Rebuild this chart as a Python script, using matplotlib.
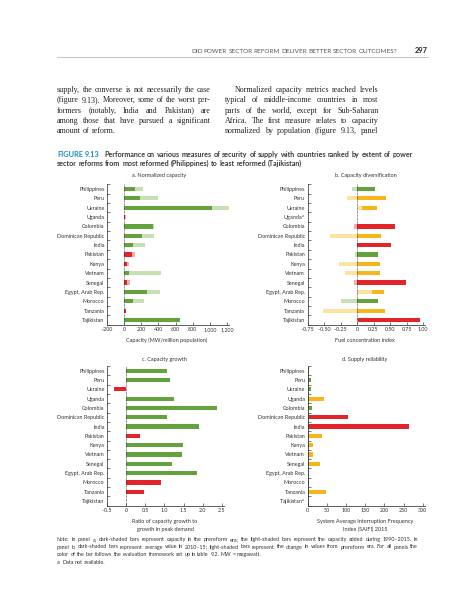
import numpy as np
import matplotlib
matplotlib.use("Agg")
import matplotlib.pyplot as plt

W, H = 457, 600
plt.rcParams['font.family'] = ['Lato', 'DejaVu Sans']
plt.rcParams['mathtext.fontset'] = 'custom'
plt.rcParams['mathtext.rm'] = 'Lato'

# données
countries = ["Philippines", "Peru", "Ukraine", "Uganda", "Colombia", "Dominican Republic",
             "India", "Pakistan", "Kenya", "Vietnam", "Senegal", "Egypt, Arab Rep.",
             "Morocco", "Tanzania", "Tajikistan"]

# a. capacité normalisée (MW / million d'habitants)
cap_prereform = [128, 186, 1025, 12, 342, 214, 109, 89, 31, 62, 31, 264, 109, 16, 652]
cap_total = [217, 392, 1262, 23, 350, 353, 249, 128, 54, 435, 70, 419, 237, 23, 652]
cap_rating = ["g", "g", "g", "r", "g", "g", "g", "r", "r", "g", "r", "g", "g", "r", "g"]

# b. diversification
div_recent = [0.27, 0.44, 0.30, np.nan, 0.57, 0.36, 0.51, 0.31, 0.35, 0.35, 0.74, 0.40, 0.32, 0.42, 0.945]
div_change = [-0.075, -0.16, 0.08, np.nan, -0.05, -0.41, 0.0, -0.03, -0.28, -0.19, -0.045, 0.22, -0.25, -0.51, 0.02]
div_rating = ["g", "y", "y", None, "r", "y", "r", "g", "y", "y", "r", "y", "g", "y", "r"]

# c. croissance de capacité
growth_ratio = [1.07, 1.15, -0.31, 1.24, 2.36, 1.06, 1.91, 0.36, 1.48, 1.45, 1.21, 1.84, 0.92, 0.47, np.nan]
growth_rating = ["g", "g", "r", "g", "g", "g", "g", "r", "g", "g", "g", "g", "r", "r", None]

# d. fiabilité (SAIFI 2015)
saifi = [4, 9.5, 9.5, 42.6, 10.4, 105, 264, 37, 13, 14, 31, 1.5, 3, 48, np.nan]
saifi_rating = ["g", "g", "g", "y", "g", "r", "r", "y", "y", "y", "y", "g", "g", "y", None]

ticks_a = [-200, 0, 200, 400, 600, 800, 1000, 1200]
ticklabels_a = ["–200", "0", "200", "400", "600", "800", "1,000", "1,200"]
ticks_b = [-0.75, -0.5, -0.25, 0, 0.25, 0.5, 0.75, 1.0]
ticklabels_b = ["–0.75", "–0.50", "–0.25", "0", "0.25", "0.50", "0.75", "1.00"]
ticks_c = [-0.5, 0, 0.5, 1.0, 1.5, 2.0, 2.5]
ticklabels_c = ["–0.5", "0", "0.5", "1.0", "1.5", "2.0", "2.5"]
ticks_d = [0, 50, 100, 150, 200, 250, 300]
ticklabels_d = ["0", "50", "100", "150", "200", "250", "300"]

dark = {"g": "#64a23d", "y": "#f6b51b", "r": "#e2242b"}
light = {"g": "#c6e0b3", "y": "#fce3a0", "r": "#f5aaa6"}
txt = "#333333"
SERIF = ["Liberation Serif", "DejaVu Serif"]
SANS = ["Lato", "DejaVu Sans"]

fig = plt.figure(figsize=(W / 100, H / 100), dpi=100)
rend = fig.canvas.get_renderer()


def fx(x):
    return x / W


def fy(y):
    return 1 - y / H


def text_width(s, **kw):
    t = fig.text(0, 0, s, **kw)
    wd = t.get_window_extent(rend).width
    t.remove()
    return wd


def fit_size(lines, widths, base, **kw):
    # taille de police pour que les lignes tiennent dans la colonne
    ratios = [wd / text_width(ln, fontsize=base, **kw) for ln, wd in zip(lines, widths)]
    return base * min(ratios) * 0.99


def line_text(line, x0, x1, y, justify=True, first_style=None, **kw):
    # un texte par mot, espacement réparti pour justifier la ligne
    words = line.split(" ")
    styles = [dict(kw) for _ in words]
    if first_style:
        styles[0].update(first_style)
    widths = [text_width(w, **s) for w, s in zip(words, styles)]
    space = text_width("x x", **kw) - text_width("xx", **kw)
    if justify and len(words) > 1:
        gap = (x1 - x0 - sum(widths)) / (len(words) - 1)
    else:
        gap = space
    x = x0
    for w, s, wd in zip(words, styles, widths):
        fig.text(fx(x), fy(y), w, va="baseline", ha="left", **s)
        x += wd + gap


# en-tête de page
head = "DID POWER SECTOR REFORM DELIVER BETTER SECTOR OUTCOMES?"
hs = fit_size([head], [206], 4.0, family=SANS)
line_text(head, 191, 397, 53, fontsize=hs, family=SANS, color="#555555")
fig.text(fx(428), fy(53), "297", ha="right", va="baseline", fontsize=5.4,
         fontweight="bold", color="#222222")
fig.add_artist(plt.Line2D([fx(57), fx(428)], [fy(57), fy(57)], color="#bbbbbb", lw=0.6))

# texte courant
left_col = ["supply, the converse is not necessarily the case",
            "(figure 9.13). Moreover, some of the worst per-",
            "formers (notably, India and Pakistan) are",
            "among those that have pursued a significant",
            "amount of reform."]
right_col = ["Normalized capacity metrics reached levels",
             "typical of middle-income countries in most",
             "parts of the world, except for Sub-Saharan",
             "Africa. The first measure relates to capacity",
             "normalized by population (figure 9.13, panel"]
sz = fit_size([left_col[0], left_col[3], right_col[3], right_col[4]],
              [153.7, 153.7, 153.6, 153.6], 6.0, family=SERIF)
serif = dict(fontsize=sz, family=SERIF, color="#222222")
for i, ln in enumerate(left_col):
    line_text(ln, 57, 210.7, 92 + i * 10.3, justify=(i < 4), **serif)
for i, ln in enumerate(right_col):
    line_text(ln, 235 if i == 0 else 224.7, 378.3, 92 + i * 10.3, **serif)

# légende de la figure
cap1 = "Performance on various measures of security of supply with countries ranked by extent of power"
cap2 = "sector reforms from most reformed (Philippines) to least reformed (Tajikistan)"
cs = fit_size([cap1], [308.7], 4.7, fontweight="bold", family=SANS)
cap = dict(fontsize=cs, fontweight="bold", color="#3a3a3a", family=SANS)
line_text("FIGURE 9.13", 57, 97, 157, justify=False, fontsize=cs * 1.05, fontweight="bold",
          color="#1a8cc8", family=SANS)
line_text(cap1, 104, 412.7, 157, **cap)
line_text(cap2, 57, 412, 166, justify=False, **cap)


def make_axes(x_left, x_right, y_top, y_bot):
    return fig.add_axes([fx(x_left), fy(y_bot), (x_right - x_left) / W, (y_bot - y_top) / H])


def style(ax, xlim, ticks, ticklabels, ylabels):
    ax.set_xlim(*xlim)
    ax.set_ylim(len(ylabels) - 0.5, -0.5)
    for s in ["top", "right"]:
        ax.spines[s].set_visible(False)
    for s in ["left", "bottom"]:
        ax.spines[s].set_linewidth(0.6)
        ax.spines[s].set_color("#444444")
    ax.set_yticks(range(len(ylabels)))
    ax.set_yticklabels(ylabels, fontsize=3.9, color=txt)
    ax.tick_params(axis="y", which="major", length=0, pad=1.8)
    ax.set_yticks(np.arange(-0.5, len(ylabels)), minor=True)
    ax.tick_params(axis="y", which="minor", direction="in", length=2, width=0.5, color="#444444")
    ax.set_xticks(ticks)
    ax.set_xticklabels(ticklabels, fontsize=3.9, color=txt)
    ax.tick_params(axis="x", direction="in", length=2, width=0.5, pad=1.6, color="#444444")
    ax.axvline(0, color="#222222", ls=(0, (1, 1)), lw=0.5, zorder=5)
    ax.patch.set_alpha(0)


y = np.arange(len(countries))
bh = 0.45

# panneau a
ax = make_axes(107, 228.7, 184.3, 324.7)
pre = np.array(cap_prereform, float)
tot = np.array(cap_total, float)
ax.barh(y, pre, height=bh, color=[dark[c] for c in cap_rating], lw=0)
ax.barh(y, tot - pre, left=pre, height=bh, color=[light[c] for c in cap_rating], lw=0)
style(ax, (-200, 1220), ticks_a, ticklabels_a, countries)

# panneau b
labels_b = list(countries)
labels_b[3] = "Uganda$^{\\mathrm{a}}$"
ax = make_axes(307.5, 424.5, 184.3, 324.7)
rec = np.array(div_recent, float)
chg = np.array(div_change, float)
ok = ~np.isnan(rec)
ax.barh(y[ok], rec[ok], height=bh, color=[dark[c] for c, m in zip(div_rating, ok) if m], lw=0)
ax.barh(y[ok], chg[ok], height=bh, color=[light[c] for c, m in zip(div_rating, ok) if m], lw=0)
style(ax, (-0.75, 1.02), ticks_b, ticklabels_b, labels_b)

# panneau c
ax = make_axes(107, 223.8, 366, 505.7)
gr = np.array(growth_ratio, float)
ok = ~np.isnan(gr)
ax.barh(y[ok], gr[ok], height=bh, color=[dark[c] for c, m in zip(growth_rating, ok) if m], lw=0)
style(ax, (-0.5, 2.55), ticks_c, ticklabels_c, countries)

# panneau d
labels_d = list(countries)
labels_d[14] = "Tajikistan$^{\\mathrm{a}}$"
ax = make_axes(307.7, 424.6, 366, 505.7)
sf = np.array(saifi, float)
ok = ~np.isnan(sf)
ax.barh(y[ok], sf[ok], height=bh, color=[dark[c] for c, m in zip(saifi_rating, ok) if m], lw=0)
style(ax, (0, 305), ticks_d, ticklabels_d, labels_d)

# titres et axes des panneaux
small = dict(fontsize=4.0, color=txt, ha="center", va="center")
fig.text(fx(159), fy(176), "a. Normalized capacity", **small)
fig.text(fx(365.7), fy(176), "b. Capacity diversification", **small)
fig.text(fx(164), fy(359), "c. Capacity growth", **small)
fig.text(fx(365), fy(359), "d. Supply reliability", **small)
fig.text(fx(166.7), fy(340.3), "Capacity (MW/million population)", **small)
fig.text(fx(365), fy(340.3), "Fuel concentration index", **small)
fig.text(fx(165), fy(522), "Ratio of capacity growth to", **small)
fig.text(fx(165), fy(529.7), "growth in peak demand", **small)
fig.text(fx(365), fy(522), "System Average Interruption Frequency", **small)
fig.text(fx(365), fy(529.7), "Index (SAIFI) 2015", **small)

# note
n1 = ("Note: In panel a, dark-shaded bars represent capacity in the prereform era; the light-shaded bars "
      "represent the capacity added during 1990–2015. In")
n2 = ("panel b, dark-shaded bars represent average value in 2010–15; light-shaded bars represent the change "
      "in values from prereform era. For all panels the")
ns = fit_size([n1, n2], [361, 361], 3.75, family=SANS)
note = dict(fontsize=ns, color=txt, family=SANS)
line_text(n1, 57, 418, 541, first_style={"fontstyle": "italic"}, **note)
line_text(n2, 57, 418, 548.5, **note)
line_text("color of the bar follows the evaluation framework set up in table 9.2. MW = megawatt.",
          57, 418, 556, justify=False, **note)
line_text("a. Data not available.", 57, 418, 563.5, justify=False, **note)

fig.savefig("out.png", dpi=100)
